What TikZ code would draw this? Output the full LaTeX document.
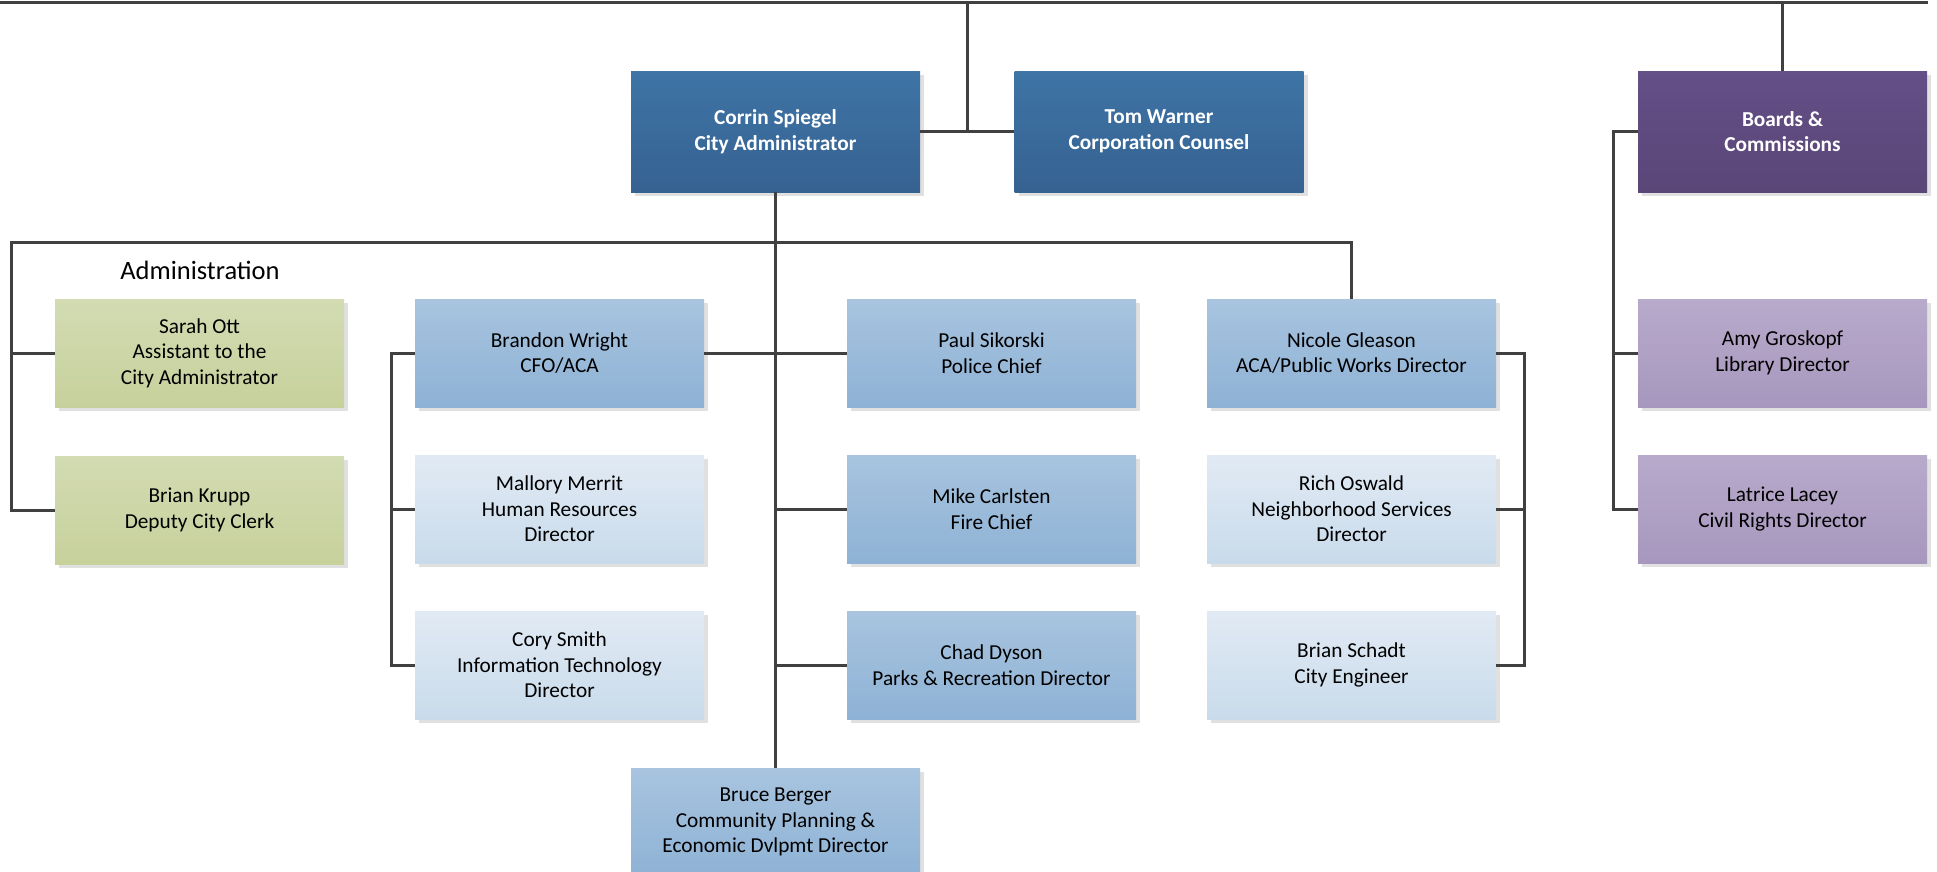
\documentclass[tikz,border=0pt]{standalone}
\usepackage{fontspec}
\setmainfont{Carlito}
\usepackage{tikz}
\usetikzlibrary{positioning, calc, shadows}
\definecolor{chiefTop}{HTML}{3E74A6}
\definecolor{chiefBot}{HTML}{366291}
\definecolor{boardsTop}{HTML}{644F87}
\definecolor{boardsBot}{HTML}{5A4677}
\definecolor{adminTop}{HTML}{D3DBB2}
\definecolor{adminBot}{HTML}{C7D19C}
\definecolor{deptTop}{HTML}{A8C4DF}
\definecolor{deptBot}{HTML}{8EB2D5}
\definecolor{subTop}{HTML}{E1EAF4}
\definecolor{subBot}{HTML}{C9DBEB}
\definecolor{lilacTop}{HTML}{B8AACB}
\definecolor{lilacBot}{HTML}{A797BE}
\definecolor{linegray}{HTML}{404040}
\tikzstyle{orgbox} = [rectangle, minimum width=289pt, minimum height=108pt, inner sep=2pt, align=center, text centered, font=\fontsize{21.3}{25.5}\selectfont, drop shadow={shadow xshift=4pt, shadow yshift=-4pt, fill=black!12, opacity=1}]
\tikzstyle{chief} = [orgbox, minimum height=121pt, top color=chiefTop, bottom color=chiefBot, text=white, font=\fontsize{21.3}{25.5}\selectfont\bfseries]
\tikzstyle{boardbox} = [chief, top color=boardsTop, bottom color=boardsBot]
\tikzstyle{adminbox} = [orgbox, top color=adminTop, bottom color=adminBot]
\tikzstyle{dept} = [orgbox, top color=deptTop, bottom color=deptBot]
\tikzstyle{subdept} = [orgbox, top color=subTop, bottom color=subBot]
\tikzstyle{lilac} = [orgbox, top color=lilacTop, bottom color=lilacBot]
\tikzstyle{link} = [draw=linegray, line width=3pt]

\begin{document}
\begin{tikzpicture}[x=1pt, y=-1pt]
        \useasboundingbox (0,0) rectangle (1937,871);
        \clip (0,0) rectangle (1937,871);

        % top row
        \node[chief] (corrin) at (775.5,131.5) {Corrin Spiegel\\City Administrator};
        \node[chief] (tom) at (1159,131.5) {Tom Warner\\Corporation Counsel};
        \node[boardbox] (boards) at (1782.5,131.5) {Boards \&\\Commissions};

        % administration
        \node[font=\fontsize{26.5}{31}\selectfont] (admin) at (200,270) {Administration};
        \node[adminbox] (sarah) at (199.5,353) {Sarah Ott\\Assistant to the\\City Administrator};
        \node[adminbox] (krupp) at (199.5,510) {Brian Krupp\\Deputy City Clerk};

        % finance
        \node[dept] (brandon) at (559.5,353) {Brandon Wright\\CFO/ACA};
        \node[subdept] (mallory) at (559.5,509) {Mallory Merrit\\Human Resources\\Director};
        \node[subdept] (cory) at (559.5,665) {Cory Smith\\Information Technology\\Director};

        % public safety and parks
        \node[dept] (paul) at (991.5,353) {Paul Sikorski\\Police Chief};
        \node[dept] (mike) at (991.5,509) {Mike Carlsten\\Fire Chief};
        \node[dept] (chad) at (991.5,665) {Chad Dyson\\Parks \& Recreation Director};
        \node[dept] (bruce) at (775.5,822) {Bruce Berger\\Community Planning \&\\Economic Dvlpmt Director};

        % public works
        \node[dept] (nicole) at (1351.5,353) {Nicole Gleason\\ACA/Public Works Director};
        \node[subdept] (rich) at (1351.5,509) {Rich Oswald\\Neighborhood Services\\Director};
        \node[subdept] (schadt) at (1351.5,665) {Brian Schadt\\City Engineer};

        % boards
        \node[lilac] (amy) at (1782.5,353) {Amy Groskopf\\Library Director};
        \node[lilac] (latrice) at (1782.5,509) {Latrice Lacey\\Civil Rights Director};

        % connectors
        \coordinate (topleft) at (0,2);
        \coordinate (topright) at (1928,2);
        \coordinate (midct) at ($(corrin.east)!0.5!(tom.west)$);
        \coordinate (adminbus) at (11,242);
        \coordinate (finbus) at ($(brandon.west)+(-23,0)$);
        \coordinate (pwbus) at ($(nicole.east)+(28,0)$);
        \coordinate (bcbus) at ($(boards.west)+(-24,0)$);

        \draw[link] (topleft) -- (topright);
        \draw[link] (midct |- topleft) -- (midct);
        \draw[link] (corrin.east) -- (tom.west);
        \draw[link] (boards.north |- topleft) -- (boards.north);
        \draw[link] (corrin.south) -- (bruce.north);
        \draw[link] (nicole.north) -- (nicole.north |- adminbus) -- (adminbus) |- (krupp.west);
        \draw[link] (adminbus |- sarah.west) -- (sarah.west);
        \draw[link] (brandon.west) -- (finbus) |- (cory.west);
        \draw[link] (finbus |- mallory.west) -- (mallory.west);
        \draw[link] (brandon.east) -- (paul.west);
        \draw[link] (bruce.north |- mike.west) -- (mike.west);
        \draw[link] (bruce.north |- chad.west) -- (chad.west);
        \draw[link] (nicole.east) -- (pwbus) |- (schadt.east);
        \draw[link] (pwbus |- rich.east) -- (rich.east);
        \draw[link] (boards.west) -- (bcbus) |- (latrice.west);
        \draw[link] (bcbus |- amy.west) -- (amy.west);
    \end{tikzpicture}
\end{document}
